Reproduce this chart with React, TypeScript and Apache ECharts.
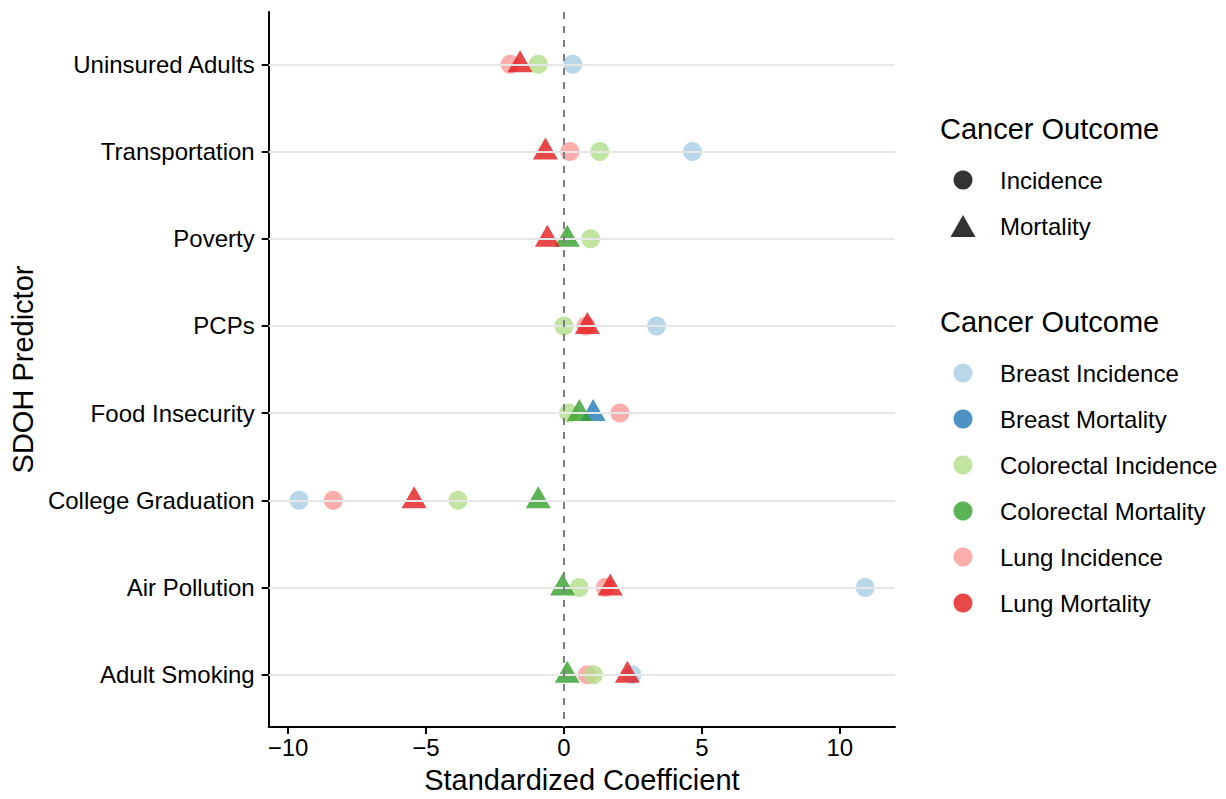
import React, { useEffect, useRef } from "react";
import * as echarts from "echarts";

const categories = [
  "Uninsured Adults",
  "Transportation",
  "Poverty",
  "PCPs",
  "Food Insecurity",
  "College Graduation",
  "Air Pollution",
  "Adult Smoking",
];

const xTicks = [-10, -5, 0, 5, 10];

const outcomes = [
  "Breast Incidence",
  "Breast Mortality",
  "Colorectal Incidence",
  "Colorectal Mortality",
  "Lung Incidence",
  "Lung Mortality",
];

const breastIncidence = [0.32, 4.66, null, 3.36, null, -9.6, 10.92, 2.47];
const breastMortality = [null, null, null, null, 1.06, null, null, null];
const colorectalIncidence = [-0.93, 1.3, 0.97, 0.0, 0.17, -3.84, 0.55, 1.07];
const colorectalMortality = [null, null, 0.12, null, 0.56, -0.93, -0.05, 0.12];
const lungIncidence = [-1.95, 0.22, null, 0.8, 2.03, -8.36, 1.5, 0.85];
const lungMortality = [-1.59, -0.67, -0.6, 0.85, null, -5.43, 1.68, 2.3];

const colors = ["#A6CEE3", "#1F78B4", "#B2DF8A", "#33A02C", "#FB9A99", "#E31A1C"];

const FONT = "Liberation Sans, Arial, Helvetica, sans-serif";

export default function App() {
  const ref = useRef<HTMLDivElement>(null);
  useEffect(() => {
    if (!ref.current) return;
    const chart = echarts.init(ref.current, null, { renderer: "svg" });
    const values = [
      breastIncidence,
      breastMortality,
      colorectalIncidence,
      colorectalMortality,
      lungIncidence,
      lungMortality,
    ];
    const drawOrder = [4, 0, 2, 1, 3, 5];
    const series: any[] = [
      {
        type: "scatter",
        data: [],
        z: 1,
        silent: true,
        markLine: {
          silent: true,
          symbol: "none",
          label: { show: false },
          animation: false,
          data: [
            ...categories.map((_, i) => ({
              yAxis: i + 1,
              lineStyle: { color: "#e6e6e6", width: 2, type: "solid" },
            })),
            {
              xAxis: 0,
              lineStyle: { color: "#7f7f7f", width: 2, type: [7, 7] },
            },
          ],
        },
      },
    ];
    drawOrder.forEach((k) => {
      const isMort = outcomes[k].includes("Mortality");
      series.push({
        name: outcomes[k],
        type: "scatter",
        z: 2,
        symbol: isMort ? "triangle" : "circle",
        symbolSize: isMort ? [25, 22] : 19,
        symbolOffset: isMort ? [0, -3] : [0, 0],
        itemStyle: { color: colors[k], opacity: 0.8 },
        data: values[k]
          .map((v, i) => (v === null ? null : [v, i + 1]))
          .filter((d) => d !== null),
      });
    });

    const legendGraphics: any[] = [];
    legendGraphics.push({
      type: "text",
      left: 940,
      top: 114,
      style: { text: "Cancer Outcome", font: `29px ${FONT}`, fill: "#000" },
    });
    legendGraphics.push({
      type: "circle",
      shape: { cx: 963, cy: 180, r: 9.5 },
      style: { fill: "#333333" },
    });
    legendGraphics.push({
      type: "polygon",
      shape: { points: [[963, 215], [975.5, 237], [950.5, 237]] },
      style: { fill: "#333333" },
    });
    ["Incidence", "Mortality"].forEach((t, i) => {
      legendGraphics.push({
        type: "text",
        x: 1000,
        y: 180 + i * 46,
        style: {
          text: t,
          font: `24px ${FONT}`,
          fill: "#000",
          verticalAlign: "middle",
        },
      });
    });
    legendGraphics.push({
      type: "text",
      left: 940,
      top: 307,
      style: { text: "Cancer Outcome", font: `29px ${FONT}`, fill: "#000" },
    });
    outcomes.forEach((t, i) => {
      legendGraphics.push({
        type: "circle",
        shape: { cx: 963, cy: 373 + i * 46, r: 9.5 },
        style: { fill: colors[i], opacity: 0.8 },
      });
      legendGraphics.push({
        type: "text",
        x: 1000,
        y: 373 + i * 46,
        style: {
          text: t,
          font: `24px ${FONT}`,
          fill: "#000",
          verticalAlign: "middle",
        },
      });
    });

    chart.setOption({
      animation: false,
      backgroundColor: "#ffffff",
      textStyle: { fontFamily: FONT },
      grid: { left: 268, right: 331, top: 12, bottom: 66, containLabel: false },
      xAxis: {
        type: "value",
        min: -10.7,
        max: 12.0,
        name: "Standardized Coefficient",
        nameLocation: "middle",
        nameGap: 38,
        nameTextStyle: { fontSize: 29, color: "#000", fontFamily: FONT },
        axisLine: { show: true, onZero: false, lineStyle: { color: "#000", width: 2 } },
        axisTick: {
          show: true,
          length: 7,
          lineStyle: { color: "#000", width: 2 },
          customValues: xTicks,
        },
        axisLabel: {
          fontSize: 24,
          color: "#000",
          margin: 8,
          customValues: xTicks,
          formatter: (v: number) => (v < 0 ? "\u2212" + Math.abs(v) : String(v)),
        },
        splitLine: { show: false },
      },
      yAxis: {
        type: "value",
        min: 0.4,
        max: 8.6,
        inverse: true,
        name: "SDOH Predictor",
        nameLocation: "middle",
        nameGap: 226,
        nameRotate: 90,
        nameTextStyle: { fontSize: 29, color: "#000", fontFamily: FONT },
        axisLine: { show: true, onZero: false, lineStyle: { color: "#000", width: 2 } },
        axisTick: {
          show: true,
          length: 7,
          lineStyle: { color: "#000", width: 2 },
          customValues: categories.map((_, i) => i + 1),
        },
        axisLabel: {
          fontSize: 24,
          color: "#000",
          margin: 14,
          customValues: categories.map((_, i) => i + 1),
          formatter: (v: number) => categories[Math.round(v) - 1] ?? "",
        },
        splitLine: { show: false },
      },
      series,
      graphic: legendGraphics,
    });
    return () => chart.dispose();
  }, []);
  return (
    <div
      ref={ref}
      style={{ position: "fixed", left: 0, top: 0, width: 1226, height: 799 }}
    />
  );
}
